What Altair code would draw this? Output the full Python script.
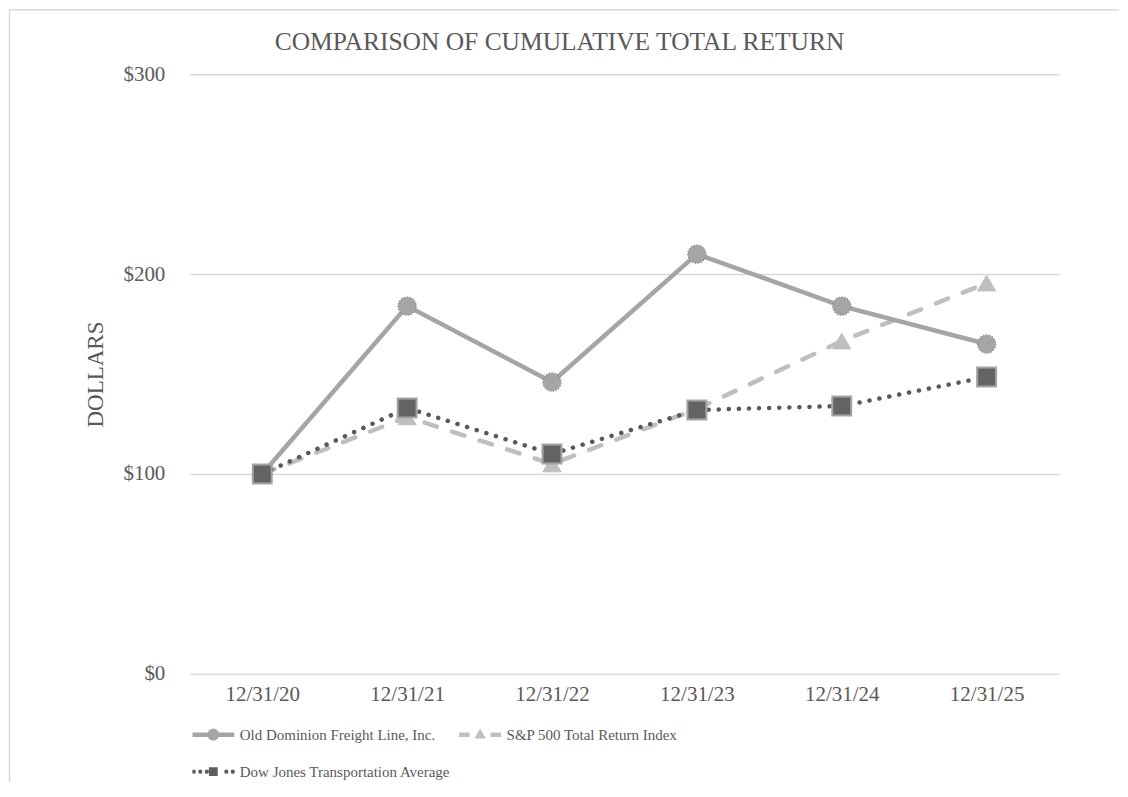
import altair as alt
import pandas as pd

# ---------------- data ----------------
dates = ["12/31/20", "12/31/21", "12/31/22", "12/31/23", "12/31/24", "12/31/25"]
series_names = [
    "Old Dominion Freight Line, Inc.",
    "S&P 500 Total Return Index",
    "Dow Jones Transportation Average",
]
odfl = [100, 184, 146, 210, 184, 165]
spx = [100, 128.5, 105, 132.5, 166.5, 195.5]
djt = [100, 133, 110, 132, 134, 148.5]
y_ticks = [0, 100, 200, 300]

rows = []
for name, vals in zip(series_names, [odfl, spx, djt]):
    for d, v in zip(dates, vals):
        rows.append({"date": d, "series": name, "value": v})
df = pd.DataFrame(rows)

FONT = "Liberation Serif"
TXT = "#595959"
GRID = "#d9d9d9"

x_enc = alt.X(
    "date:N",
    sort=dates,
    scale=alt.Scale(type="point", padding=0.5, domain=dates),
    axis=alt.Axis(
        title=None, domain=False, ticks=False, grid=False, labelAngle=0,
        labelFont=FONT, labelFontSize=21, labelColor=TXT, labelPadding=10,
    ),
)
y_enc = alt.Y(
    "value:Q",
    scale=alt.Scale(domain=[0, 300], nice=False),
    axis=alt.Axis(
        title="DOLLARS", values=y_ticks, labelExpr="'$' + datum.value",
        domain=False, ticks=False, grid=True, gridColor=GRID, gridWidth=1.5,
        labelFont=FONT, labelFontSize=21, labelColor=TXT, labelPadding=25,
        titleFont=FONT, titleFontSize=23, titleColor=TXT, titleFontWeight="normal",
        titlePadding=15,
    ),
)

base = alt.Chart(df)


def series(name):
    return base.transform_filter(alt.datum.series == name)


sp_line = series(series_names[1]).mark_line(
    color="#bfbfbf", strokeWidth=4.5, strokeDash=[13, 16], strokeCap="round"
).encode(x=x_enc, y=y_enc)
sp_pts = series(series_names[1]).mark_point(
    shape="triangle-up", filled=True, fill="#bfbfbf", stroke="#bfbfbf",
    strokeWidth=1, size=330, opacity=1
).encode(x=x_enc, y=y_enc)

od_line = series(series_names[0]).mark_line(
    color="#a5a5a5", strokeWidth=4.5
).encode(x=x_enc, y=y_enc)
od_pts = series(series_names[0]).mark_point(
    shape="circle", filled=True, fill="#a5a5a5", stroke="#8a8a8a",
    strokeWidth=1.2, strokeDash=[1.5, 1.5], size=330, opacity=1
).encode(x=x_enc, y=y_enc)

dj_line = series(series_names[2]).mark_line(
    color="#595959", strokeWidth=4.5, strokeDash=[0.1, 10], strokeCap="round"
).encode(x=x_enc, y=y_enc)
dj_pts = series(series_names[2]).mark_square(
    filled=True, fill="#646464", stroke="#a5a5a5", strokeWidth=2, size=360, opacity=1
).encode(x=x_enc, y=y_enc)


# legend symbols: line + marker drawn as filled custom symbol paths
def dot(cx, r):
    return (f"M{cx + r:.3f},0A{r},{r},0,1,1,{cx - r:.3f},0"
            f"A{r},{r},0,1,1,{cx + r:.3f},0Z")


h = 0.11
legend_paths = [
    f"M-1,-{h}H-0.26V{h}H-1ZM0.26,-{h}H1V{h}H0.26Z" + dot(0, 0.28),
    f"M-1,-{h}H-0.5V{h}H-1ZM0.5,-{h}H1V{h}H0.5Z" + "M0,-0.3L0.27,0.18L-0.27,0.18Z",
    dot(-0.93, 0.1) + dot(-0.62, 0.1) + dot(-0.31, 0.1) + dot(0.62, 0.1) + dot(0.93, 0.1)
    + "M-0.21,-0.21H0.21V0.21H-0.21Z",
]
legend_fills = ["#a5a5a5", "#bfbfbf", "#5f5f5f"]

leg = alt.Legend(
    title=None, orient="none", legendX=2.5, legendY=651, columns=2,
    direction="horizontal", columnPadding=8, rowPadding=17, clipHeight=20,
    padding=0, symbolSize=1764, symbolStrokeWidth=0, symbolOpacity=1,
    labelFont=FONT, labelFontSize=15, labelColor=TXT, labelOffset=5.5,
    labelLimit=500,
)
legend_layer = base.transform_filter("datum.value < 0").mark_point(
    filled=True, opacity=1
).encode(
    shape=alt.Shape("series:N", scale=alt.Scale(domain=series_names, range=legend_paths), legend=leg),
    fill=alt.Fill("series:N", scale=alt.Scale(domain=series_names, range=legend_fills), legend=leg),
)

# outer frame (decorative border of the original figure)
frame_df = pd.DataFrame({"k": [0]})
frame_left = alt.Chart(frame_df).mark_rule(color=GRID, strokeWidth=1.5).encode(
    x=alt.value(-180.5), y=alt.value(-64.5), y2=alt.value(708)
)
frame_top = alt.Chart(frame_df).mark_rule(color=GRID, strokeWidth=1.5).encode(
    x=alt.value(-180.5), x2=alt.value(930), y=alt.value(-64.5)
)

chart = alt.layer(
    frame_left, frame_top,
    sp_line, sp_pts, od_line, od_pts, dj_line, dj_pts, legend_layer,
).properties(
    width=870,
    height=600,
    padding=0,
    title=alt.TitleParams(
        "COMPARISON OF CUMULATIVE TOTAL RETURN", font=FONT, fontSize=25.5,
        color=TXT, fontWeight="normal", anchor="middle", dx=-65, offset=-46,
    ),
).configure_view(stroke=None)

chart.save("out.html", embed_options={"renderer": "svg", "actions": False})
